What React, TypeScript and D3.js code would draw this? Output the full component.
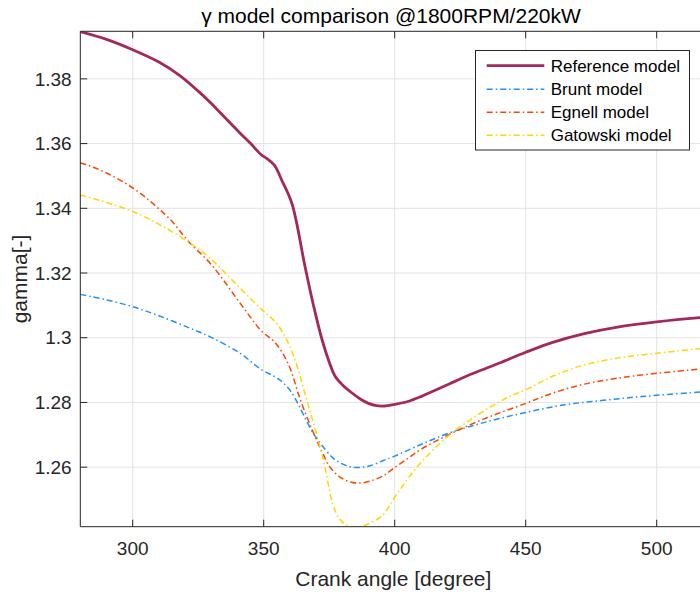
import React from "react";
import * as d3 from "d3";

// Crank angle [degree] sample points and gamma values for each model
const refAngle = [280, 290, 300, 310, 318, 325, 330, 335, 341, 345, 349, 351, 354, 357, 360.8, 365.8, 369, 372.3, 375, 377.2, 380, 383.6, 387, 390, 393, 396, 400, 405, 410, 415, 421, 430, 440, 450, 460, 472, 485, 500, 516.5, 520];
const refGamma = [1.3946, 1.3922, 1.389, 1.3852, 1.381, 1.3762, 1.3724, 1.3682, 1.3632, 1.36, 1.3566, 1.3555, 1.3534, 1.3485, 1.3414, 1.3219, 1.31, 1.2993, 1.2925, 1.2882, 1.2855, 1.283, 1.281, 1.2797, 1.279, 1.2789, 1.2794, 1.2803, 1.2818, 1.2836, 1.2858, 1.289, 1.2922, 1.2955, 1.2985, 1.3012, 1.3033, 1.3049, 1.3062, 1.3064];

const bruntAngle = [280, 290, 300, 310, 322, 330, 341, 349, 354, 357, 360, 362.5, 365, 368.8, 372, 376.5, 380, 383, 387, 391, 395.5, 400, 410, 421, 435, 450, 465, 478, 490, 500, 516.5, 520];
const bruntGamma = [1.3134, 1.3117, 1.3096, 1.3068, 1.3029, 1.3001, 1.2952, 1.2902, 1.2881, 1.2864, 1.2838, 1.2805, 1.2765, 1.2706, 1.267, 1.2628, 1.261, 1.2601, 1.2599, 1.2605, 1.262, 1.2634, 1.267, 1.2706, 1.274, 1.2769, 1.2793, 1.2805, 1.2815, 1.2822, 1.2832, 1.2834];

const egnellAngle = [280, 285, 290, 295, 300, 305, 310, 315, 321, 330, 341, 349, 354, 357, 360, 364, 368.5, 372, 375.3, 379, 383, 387, 391, 395.5, 399.3, 405, 410, 421, 435, 450, 460, 472, 485, 500, 516.5, 520];
const egnellGamma = [1.3541, 1.3527, 1.3509, 1.3488, 1.3463, 1.3433, 1.3398, 1.336, 1.33, 1.3226, 1.3107, 1.3022, 1.2988, 1.2955, 1.2907, 1.2808, 1.2715, 1.2652, 1.26, 1.257, 1.2554, 1.2551, 1.2558, 1.2573, 1.2595, 1.2627, 1.2655, 1.2702, 1.2752, 1.2797, 1.2828, 1.2856, 1.2875, 1.289, 1.2903, 1.2905];

const gatowskiAngle = [280, 287.6, 300, 310.4, 322, 329.5, 341, 349.4, 354.3, 357, 360, 363, 366, 368.5, 371.5, 373.4, 376.4, 379, 382.2, 386.8, 390, 395.5, 399.3, 408.5, 421, 441.3, 450, 460, 472, 485, 500, 516.5, 520];
const gatowskiGamma = [1.3441, 1.3424, 1.339, 1.3349, 1.3292, 1.3246, 1.3153, 1.3086, 1.305, 1.302, 1.2973, 1.2905, 1.282, 1.275, 1.2663, 1.26, 1.2485, 1.244, 1.2418, 1.2416, 1.2425, 1.2452, 1.2499, 1.26, 1.27, 1.2808, 1.2839, 1.288, 1.2915, 1.2937, 1.2952, 1.2966, 1.2968];

const seriesNames = ["Reference model", "Brunt model", "Egnell model", "Gatowski model"];
const seriesColors = ["#a5285d", "#1e90ff", "#ff4500", "#ffd700"];

const xTicks = [300, 350, 400, 450, 500];
const yTicks = [1.26, 1.28, 1.3, 1.32, 1.34, 1.36, 1.38];

const W = 700;
const H = 594;
const FONT = "'Liberation Sans', Arial, Helvetica, sans-serif";
const AXIS = "#262626";

export default function App() {
  const left = 80.3;
  const top = 31.3;
  const bottom = 526.7;
  const x = d3.scaleLinear().domain([280, 520]).range([left, left + 240 * 2.62]);
  const y = d3.scaleLinear().domain([1.2416, 1.3947]).range([bottom, top]);
  const right = Math.min(W, x(520));

  const line = d3
    .line<[number, number]>()
    .x((d) => x(d[0]))
    .y((d) => y(d[1]))
    .curve(d3.curveCatmullRom.alpha(0.5));

  const zip = (a: number[], b: number[]) => a.map((v, i) => [v, b[i]] as [number, number]);
  const series = [
    zip(refAngle, refGamma),
    zip(bruntAngle, bruntGamma),
    zip(egnellAngle, egnellGamma),
    zip(gatowskiAngle, gatowskiGamma),
  ];
  const widths = [2.8, 1.5, 1.5, 1.5];
  const dashes = [undefined, "6 3 1.5 3", "6 3 1.5 3", "6 3 1.5 3"];

  const legendX = 475.5;
  const legendY = 50.5;
  const rowYs = [65.7, 89.3, 112.3, 135.3];

  return (
    <svg
      width={W}
      height={H}
      style={{ position: "fixed", left: 0, top: 0, background: "#fff" }}
      fontFamily={FONT}
    >
      <defs>
        <clipPath id="plotArea">
          <rect x={left} y={top} width={right - left} height={bottom - top} />
        </clipPath>
      </defs>
      <rect x={0} y={0} width={W} height={H} fill="#fff" />

      {/* grid */}
      <g stroke="#e3e3e3" strokeWidth={1}>
        {xTicks.map((t) => (
          <line key={"gx" + t} x1={x(t)} x2={x(t)} y1={top} y2={bottom} />
        ))}
        {yTicks.map((t) => (
          <line key={"gy" + t} x1={left} x2={right} y1={y(t)} y2={y(t)} />
        ))}
      </g>

      {/* data lines */}
      <g clipPath="url(#plotArea)" fill="none">
        {series.map((s, i) => (
          <path
            key={seriesNames[i]}
            d={line(s) || ""}
            stroke={seriesColors[i]}
            strokeWidth={widths[i]}
            strokeDasharray={dashes[i]}
            strokeLinejoin="round"
          />
        ))}
      </g>

      {/* axes box and ticks */}
      <g stroke={AXIS} strokeWidth={1} fill="none">
        <line x1={left} x2={right} y1={bottom} y2={bottom} />
        <line x1={left} x2={right} y1={top} y2={top} />
        <line x1={left} x2={left} y1={top} y2={bottom} />
        {xTicks.map((t) => (
          <g key={"tx" + t}>
            <line x1={x(t)} x2={x(t)} y1={bottom} y2={bottom - 7} />
            <line x1={x(t)} x2={x(t)} y1={top} y2={top + 7} />
          </g>
        ))}
        {yTicks.map((t) => (
          <line key={"ty" + t} x1={left} x2={left + 7} y1={y(t)} y2={y(t)} />
        ))}
      </g>

      {/* tick labels */}
      <g fill={AXIS} fontSize={19}>
        {xTicks.map((t) => (
          <text key={"lx" + t} x={x(t)} y={555} textAnchor="middle">
            {t}
          </text>
        ))}
        {yTicks.map((t) => (
          <text key={"ly" + t} x={71.7} y={y(t)} dy="0.35em" textAnchor="end">
            {d3.format("~g")(t)}
          </text>
        ))}
      </g>

      {/* titles */}
      <text x={391} y={23.3} textAnchor="middle" fontSize={21} fill="#000">
        γ model comparison @1800RPM/220kW
      </text>
      <text x={393.3} y={585.5} textAnchor="middle" fontSize={21} fill={AXIS}>
        Crank angle [degree]
      </text>
      <text
        transform={`translate(27,${(top + bottom) / 2}) rotate(-90)`}
        textAnchor="middle"
        fontSize={21}
        fill={AXIS}
      >
        gamma[-]
      </text>

      {/* legend */}
      <g>
        <rect x={legendX} y={legendY} width={214} height={99.5} fill="#fff" stroke={AXIS} strokeWidth={1} />
        {seriesNames.map((name, i) => (
          <g key={"lg" + name}>
            <line
              x1={486.7}
              x2={544.3}
              y1={rowYs[i]}
              y2={rowYs[i]}
              stroke={seriesColors[i]}
              strokeWidth={widths[i]}
              strokeDasharray={dashes[i]}
            />
            <text x={550.7} y={rowYs[i]} dy="0.36em" fontSize={17} fill="#000">
              {name}
            </text>
          </g>
        ))}
      </g>
    </svg>
  );
}
